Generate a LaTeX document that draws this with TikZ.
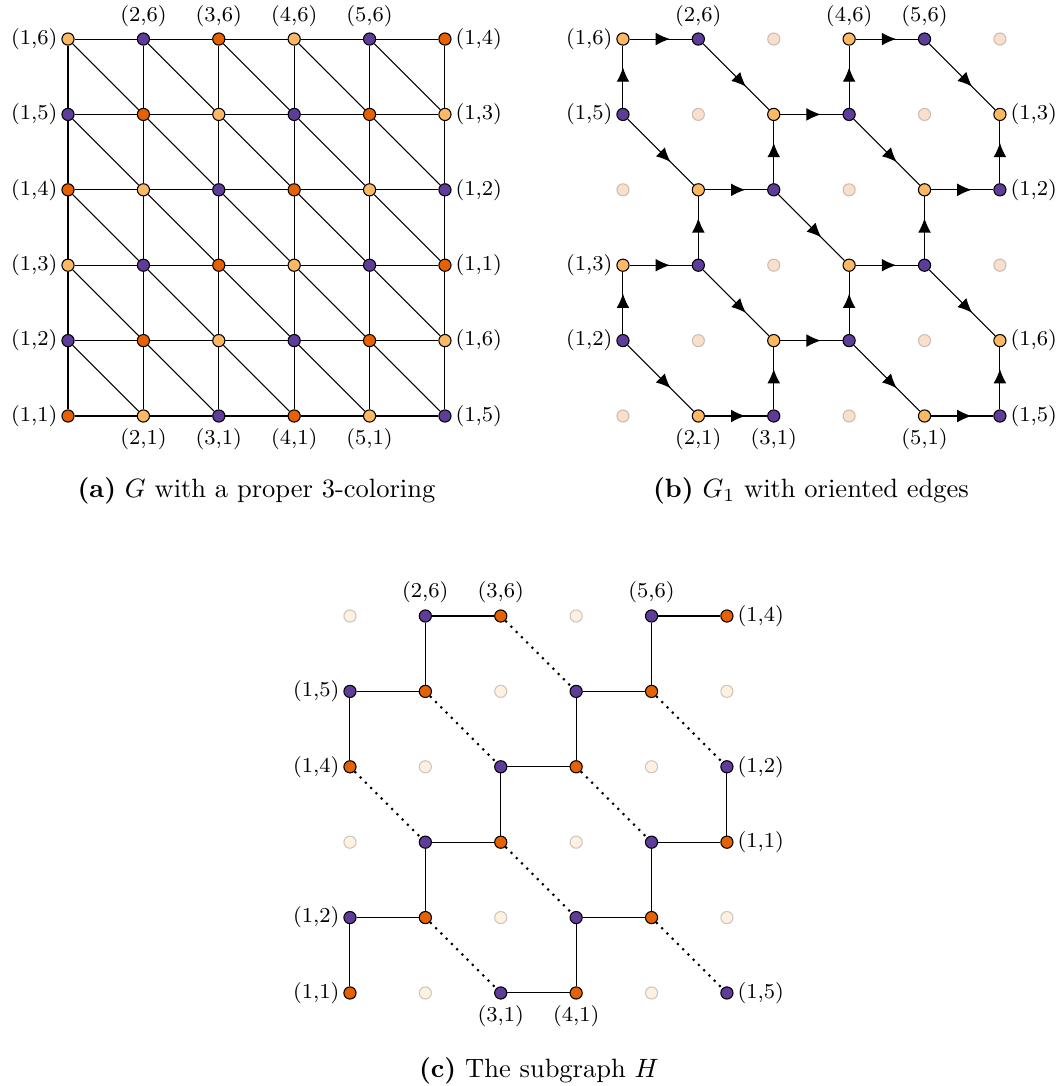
\documentclass[tikz,border=0pt]{standalone}
\usetikzlibrary{arrows.meta,decorations.markings}
\definecolor{cOr}{HTML}{E66101}
\definecolor{cLt}{HTML}{FDB863}
\definecolor{cPu}{HTML}{5E3C99}
\tikzset{
  vtx/.style={circle,draw=black,line width=0.4pt,inner sep=0pt,minimum size=4.6pt},
  v0/.style={vtx,fill=cOr},
  v1/.style={vtx,fill=cLt},
  v2/.style={vtx,fill=cPu},
  faintb/.style={vtx,fill=cOr,fill opacity=0.2,draw opacity=0.2},
  faintc/.style={vtx,fill=cLt,fill opacity=0.2,draw opacity=0.2},
  lnk/.style={line width=0.4pt,draw=black},
  oriented/.style={lnk,postaction={decorate},
    decoration={markings,mark=at position 0.65 with {\arrow{Latex[length=5.4pt,width=4.8pt]}}}},
  hdot/.style={line width=0.8pt,dotted},
  lbl/.style={font=\footnotesize,inner xsep=1.3pt,inner ysep=2.1pt},
  captxt/.style={font=\normalsize,anchor=base,inner sep=0pt}
}
\begin{document}
\begin{tikzpicture}
\useasboundingbox (0,0) rectangle (14.10,14.405);

% ---------------- panel (a) ----------------
\begin{scope}[shift={(0.902,8.887)}]
  \foreach \i in {0,...,5} \foreach \j in {0,...,5} {
    \pgfmathtruncatemacro{\colidx}{mod(\i-\j+6,3)}
    \node[v\colidx] (a-\i-\j) at (\i,\j) {};
  }
  \foreach \i in {0,...,4} \foreach \j in {0,...,5} {
    \pgfmathtruncatemacro{\nx}{\i+1}
    \draw[lnk] (a-\i-\j) -- (a-\nx-\j);
  }
  \foreach \i in {0,...,5} \foreach \j in {0,...,4} {
    \pgfmathtruncatemacro{\ny}{\j+1}
    \draw[lnk] (a-\i-\j) -- (a-\i-\ny);
  }
  \foreach \i in {0,...,4} \foreach \j in {0,...,4} {
    \pgfmathtruncatemacro{\nx}{\i+1}
    \pgfmathtruncatemacro{\ny}{\j+1}
    \draw[lnk] (a-\i-\ny) -- (a-\nx-\j);
  }
  \foreach \j in {0,...,5} {
    \pgfmathtruncatemacro{\kl}{\j+1}
    \pgfmathtruncatemacro{\kr}{mod(\j+4,6)+1}
    \node[lbl,anchor=east] (la-l-\j) at (a-0-\j.west) {(1,\kl)};
    \node[lbl,anchor=west] (la-r-\j) at (a-5-\j.east) {(1,\kr)};
  }
  \foreach \i in {1,...,4} {
    \pgfmathtruncatemacro{\k}{\i+1}
    \node[lbl,anchor=south] (la-t-\i) at (a-\i-5.north) {(\k,6)};
    \node[lbl,anchor=north] (la-b-\i) at (a-\i-0.south) {(\k,1)};
  }
\end{scope}
\node[captxt] (capa) at (3.402,7.812) {\textbf{(a)} $G$ with a proper 3-coloring};

% ---------------- panel (b) ----------------
\begin{scope}[shift={(8.263,8.887)}]
  \foreach \i in {0,...,5} \foreach \j in {0,...,5} {
    \pgfmathtruncatemacro{\colidx}{mod(\i-\j+6,3)}
    \ifnum\colidx=0
      \node[faintb] (b-\i-\j) at (\i,\j) {};
    \else
      \node[v\colidx] (b-\i-\j) at (\i,\j) {};
    \fi
  }
  \foreach \i in {0,...,4} \foreach \j in {0,...,5} {
    \pgfmathtruncatemacro{\colidx}{mod(\i-\j+6,3)}
    \pgfmathtruncatemacro{\nx}{\i+1}
    \ifnum\colidx=1 \draw[oriented] (b-\i-\j) -- (b-\nx-\j); \fi
  }
  \foreach \i in {0,...,5} \foreach \j in {0,...,4} {
    \pgfmathtruncatemacro{\colidx}{mod(\i-\j+6,3)}
    \pgfmathtruncatemacro{\ny}{\j+1}
    \ifnum\colidx=2 \draw[oriented] (b-\i-\j) -- (b-\i-\ny); \fi
  }
  \foreach \i in {0,...,4} \foreach \j in {0,...,4} {
    \pgfmathtruncatemacro{\nx}{\i+1}
    \pgfmathtruncatemacro{\ny}{\j+1}
    \pgfmathtruncatemacro{\colidx}{mod(\i-\ny+6,3)}
    \ifnum\colidx=2 \draw[oriented] (b-\i-\ny) -- (b-\nx-\j); \fi
  }
  \foreach \j in {0,...,5} {
    \pgfmathtruncatemacro{\kl}{\j+1}
    \pgfmathtruncatemacro{\kr}{mod(\j+4,6)+1}
    \pgfmathtruncatemacro{\cl}{mod(0-\j+6,3)}
    \pgfmathtruncatemacro{\cr}{mod(5-\j+6,3)}
    \ifnum\cl=0 \else \node[lbl,anchor=east] (lb-l-\j) at (b-0-\j.west) {(1,\kl)}; \fi
    \ifnum\cr=0 \else \node[lbl,anchor=west] (lb-r-\j) at (b-5-\j.east) {(1,\kr)}; \fi
  }
  \foreach \i in {1,...,4} {
    \pgfmathtruncatemacro{\k}{\i+1}
    \pgfmathtruncatemacro{\ct}{mod(\i-5+6,3)}
    \pgfmathtruncatemacro{\cb}{mod(\i+6,3)}
    \ifnum\ct=0 \else \node[lbl,anchor=south] (lb-t-\i) at (b-\i-5.north) {(\k,6)}; \fi
    \ifnum\cb=0 \else \node[lbl,anchor=north] (lb-b-\i) at (b-\i-0.south) {(\k,1)}; \fi
  }
\end{scope}
\node[captxt] (capb) at (10.757,7.812) {\textbf{(b)} $G_1$ with oriented edges};

% ---------------- panel (c) ----------------
\begin{scope}[shift={(4.642,1.234)}]
  \foreach \i in {0,...,5} \foreach \j in {0,...,5} {
    \pgfmathtruncatemacro{\colidx}{mod(\i-\j+6,3)}
    \ifnum\colidx=1
      \node[faintc] (c-\i-\j) at (\i,\j) {};
    \else
      \node[v\colidx] (c-\i-\j) at (\i,\j) {};
    \fi
  }
  \foreach \i in {0,...,4} \foreach \j in {0,...,5} {
    \pgfmathtruncatemacro{\colidx}{mod(\i-\j+6,3)}
    \pgfmathtruncatemacro{\nx}{\i+1}
    \ifnum\colidx=2 \draw[lnk] (c-\i-\j) -- (c-\nx-\j); \fi
  }
  \foreach \i in {0,...,5} \foreach \j in {0,...,4} {
    \pgfmathtruncatemacro{\colidx}{mod(\i-\j+6,3)}
    \pgfmathtruncatemacro{\ny}{\j+1}
    \ifnum\colidx=0 \draw[lnk] (c-\i-\j) -- (c-\i-\ny); \fi
  }
  \foreach \i in {0,...,4} \foreach \j in {0,...,4} {
    \pgfmathtruncatemacro{\nx}{\i+1}
    \pgfmathtruncatemacro{\ny}{\j+1}
    \pgfmathtruncatemacro{\colidx}{mod(\i-\ny+6,3)}
    \ifnum\colidx=0 \draw[hdot] (c-\i-\ny) -- (c-\nx-\j); \fi
  }
  \foreach \j in {0,...,5} {
    \pgfmathtruncatemacro{\kl}{\j+1}
    \pgfmathtruncatemacro{\kr}{mod(\j+4,6)+1}
    \pgfmathtruncatemacro{\cl}{mod(0-\j+6,3)}
    \pgfmathtruncatemacro{\cr}{mod(5-\j+6,3)}
    \ifnum\cl=1 \else \node[lbl,anchor=east] (lc-l-\j) at (c-0-\j.west) {(1,\kl)}; \fi
    \ifnum\cr=1 \else \node[lbl,anchor=west] (lc-r-\j) at (c-5-\j.east) {(1,\kr)}; \fi
  }
  \foreach \i in {1,...,4} {
    \pgfmathtruncatemacro{\k}{\i+1}
    \pgfmathtruncatemacro{\ct}{mod(\i-5+6,3)}
    \pgfmathtruncatemacro{\cb}{mod(\i+6,3)}
    \ifnum\ct=1 \else \node[lbl,anchor=south] (lc-t-\i) at (c-\i-5.north) {(\k,6)}; \fi
    \ifnum\cb=1 \else \node[lbl,anchor=north] (lc-b-\i) at (c-\i-0.south) {(\k,1)}; \fi
  }
\end{scope}
\node[captxt] (capc) at (7.149,0.119) {\textbf{(c)} The subgraph $H$};
\end{tikzpicture}
\end{document}
